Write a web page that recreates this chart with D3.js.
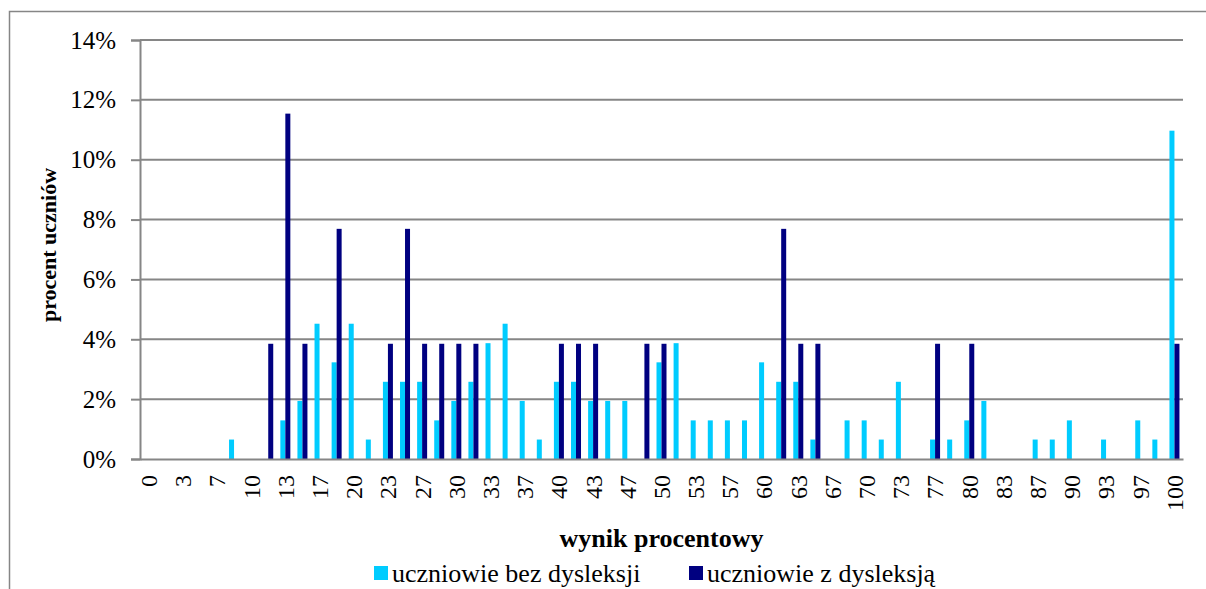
<!DOCTYPE html>
<html lang="pl">
<head>
  <meta charset="UTF-8">
  <title>Wynik procentowy</title>
  <script src="https://cdn.jsdelivr.net/npm/d3@7"></script>
  <style>
    body { margin: 0; background: #fff; }
    svg { display: block; font-family: "Liberation Serif", "Times New Roman", serif; }
    .domain { stroke: #868686; stroke-width: 2; }
  </style>
</head>
<body>
<div id="grafica"></div>

<script>
// kategorie: wynik procentowy (co 1/60)
kategorie = ['0','2','3','5','7','8','10','12','13','15','17','18','20','22','23','25','27','28','30','32',
             '33','35','37','38','40','42','43','45','47','48','50','52','53','55','57','58','60','62','63','65',
             '67','68','70','72','73','75','77','78','80','82','83','85','87','88','90','92','93','95','97','98','100']

// procent uczniów bez dysleksji
bezDysleksji = [0,0,0,0,0,0.65,0,0,1.29,1.94,4.52,3.23,4.52,0.65,2.58,2.58,2.58,1.29,1.94,2.58,
                3.87,4.52,1.94,0.65,2.58,2.58,1.94,1.94,1.94,0,3.23,3.87,1.29,1.29,1.29,1.29,3.23,2.58,2.58,0.65,
                0,1.29,1.29,0.65,2.58,0,0.65,0.65,1.29,1.94,0,0,0.65,0.65,1.29,0,0.65,0,1.29,0.65,10.97]

// procent uczniów z dysleksją
zDysleksja = [0,0,0,0,0,0,0,3.85,11.54,3.85,0,7.69,0,0,3.85,7.69,3.85,3.85,3.85,3.85,
              0,0,0,0,3.85,3.85,3.85,0,0,3.85,3.85,0,0,0,0,0,0,7.69,3.85,3.85,
              0,0,0,0,0,0,3.85,0,3.85,0,0,0,0,0,0,0,0,0,0,0,3.85]

serie = ['uczniowie bez dysleksji', 'uczniowie z dysleksją']
colores = ['#00ccff', '#000080']
yTicks = [0, 2, 4, 6, 8, 10, 12, 14]

ancho_total = 1206
alto_total = 589
margin = { left: 140, right: 23, top: 40, bottom: 130 }
ancho = ancho_total - margin.left - margin.right
alto = alto_total - margin.top - margin.bottom

svg = d3.select('#grafica')
  .append('svg')
  .attr('width', ancho_total)
  .attr('height', alto_total)

// ramka wykresu
svg.append('rect')
  .attr('x', 9.5).attr('y', 11.5)
  .attr('width', 1300).attr('height', 700)
  .attr('fill', 'none')
  .attr('stroke', '#868686')
  .attr('stroke-width', 1.5)

g = svg.append('g')
  .attr('transform', `translate(${margin.left}, ${margin.top})`)

x = d3.scaleBand()
  .domain(kategorie)
  .range([0, ancho])
  .paddingInner(0.415)
  .paddingOuter(0.2075)

xSub = d3.scaleBand()
  .domain(serie)
  .range([0, x.bandwidth()])

y = d3.scaleLinear()
  .domain([0, 14])
  .range([alto, 0])

// linie siatki
g.append('g')
  .selectAll('line')
  .data(yTicks.slice(1))
  .join('line')
  .attr('x1', 0).attr('x2', ancho)
  .attr('y1', d => y(d)).attr('y2', d => y(d))
  .attr('stroke', '#868686')
  .attr('stroke-width', 2)

// słupki
dane = kategorie.map((k, i) => ({ k: k, vals: [bezDysleksji[i], zDysleksja[i]] }))

grupos = g.append('g')
  .selectAll('g')
  .data(dane)
  .join('g')
  .attr('transform', d => `translate(${x(d.k)}, 0)`)

grupos.selectAll('rect')
  .data(d => d.vals.map((v, j) => ({ s: serie[j], v: v, c: colores[j] })))
  .join('rect')
  .attr('x', d => xSub(d.s))
  .attr('width', xSub.bandwidth())
  .attr('y', d => y(d.v))
  .attr('height', d => alto - y(d.v))
  .attr('fill', d => d.c)

// oś Y
yAxis = g.append('g')
  .call(d3.axisLeft(y).tickValues(yTicks).tickFormat(d => d + '%').tickSize(9).tickPadding(15))
yAxis.selectAll('.tick line').attr('stroke', '#868686').attr('stroke-width', 2)
yAxis.selectAll('text')
  .attr('font-size', 25)
  .attr('font-family', '"Liberation Serif", "Times New Roman", serif')
  .attr('fill', '#000')

// oś X
xAxis = g.append('g')
  .attr('transform', `translate(0, ${alto})`)
  .call(d3.axisBottom(x).tickValues(kategorie.filter((k, i) => i % 2 == 0)).tickSize(0).tickSizeOuter(0))
xAxis.selectAll('text')
  .attr('transform', 'rotate(-90)')
  .attr('text-anchor', 'end')
  .attr('x', -16)
  .attr('y', 0)
  .attr('dy', '0.35em')
  .attr('font-size', 24)
  .attr('font-family', '"Liberation Serif", "Times New Roman", serif')
  .attr('fill', '#000')

// tytuły osi
svg.append('text')
  .attr('transform', 'translate(56, 245) rotate(-90)')
  .attr('text-anchor', 'middle')
  .attr('font-size', 22)
  .attr('font-weight', 'bold')
  .text('procent uczniów')

svg.append('text')
  .attr('x', margin.left + ancho / 2)
  .attr('y', 547)
  .attr('text-anchor', 'middle')
  .attr('font-size', 26)
  .attr('font-weight', 'bold')
  .text('wynik procentowy')

// legenda
leyendaX = [374, 689]
leyenda = svg.append('g')
  .selectAll('g')
  .data(serie)
  .join('g')
  .attr('transform', (d, i) => `translate(${leyendaX[i]}, 566)`)
leyenda.append('rect')
  .attr('width', 14).attr('height', 14)
  .attr('fill', (d, i) => colores[i])
leyenda.append('text')
  .attr('x', 18)
  .attr('y', 16)
  .attr('font-size', 26)
  .text(d => d)
</script>
</body>
</html>
